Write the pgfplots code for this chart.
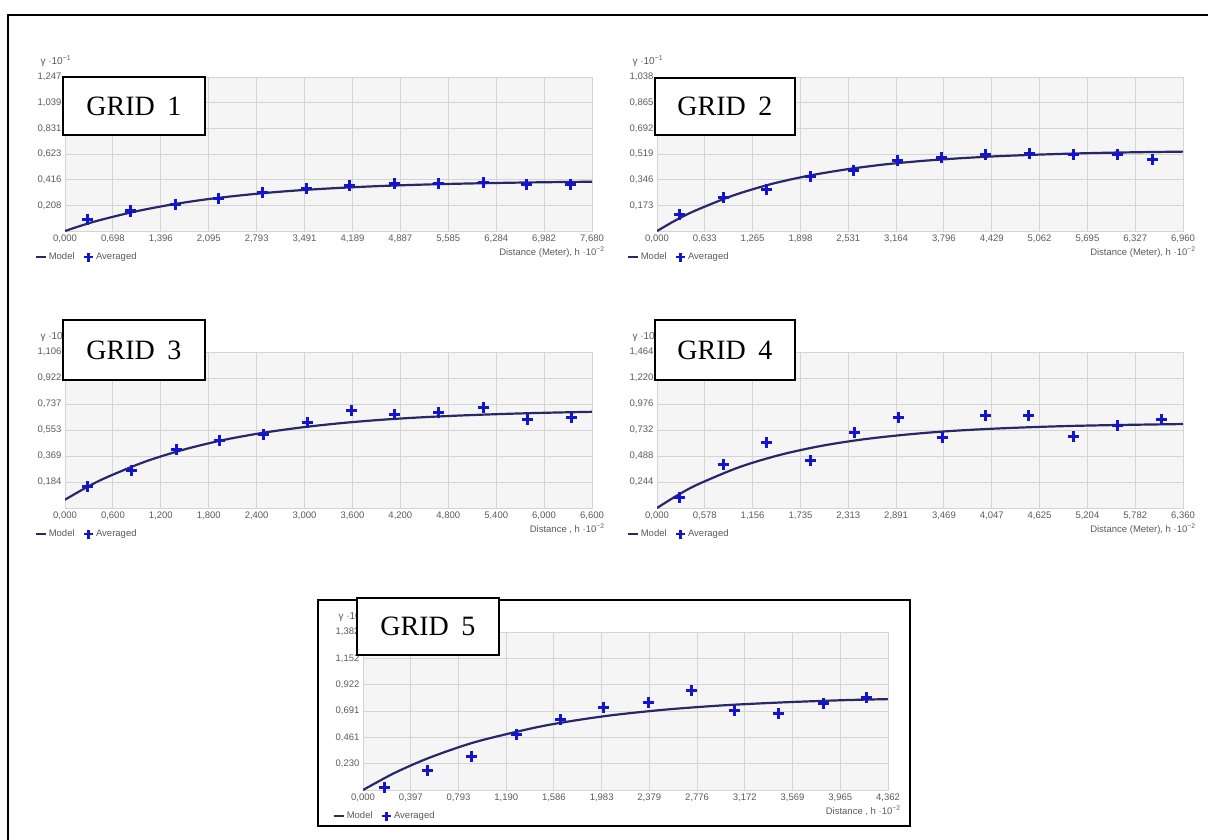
\documentclass[border=0pt]{standalone}
\usepackage{fontspec}
\setmainfont{Liberation Sans}
\newfontfamily\gridfont{Liberation Serif}
\usepackage{pgfplots}
\pgfplotsset{compat=1.18}
\definecolor{bgc}{RGB}{245,245,245}
\definecolor{gridc}{RGB}{212,212,212}
\definecolor{tickc}{RGB}{90,90,90}
\definecolor{modelc}{RGB}{40,40,105}
\definecolor{avgc}{RGB}{20,20,205}
\pgfplotsset{
  vario/.style={
    scale only axis,
    xmin=0, ymin=0,
    axis background/.style={fill=bgc},
    grid=major,
    major grid style={draw=gridc, line width=0.9pt},
    axis line style={draw=gridc, line width=0.9pt},
    tick style={draw=none},
    scaled ticks=false,
    tick label style={font=\fontsize{9.5}{11}\selectfont, text=tickc},
    /pgf/number format/fixed,
    /pgf/number format/fixed zerofill,
    /pgf/number format/precision=3,
    /pgf/number format/use comma,
    /pgf/number format/assume math mode=true,
    every axis x label/.style={at={(axis description cs:1,0)}, anchor=east, xshift=16pt, yshift=-21pt, font=\fontsize{9.5}{11}\selectfont, text=tickc},
    every axis y label/.style={at={(axis description cs:0,1)}, anchor=west, xshift=-28pt, yshift=16pt, font=\fontsize{10}{11}\selectfont, text=tickc},
    ylabel={γ ·10\textsuperscript{−1}},
    legend style={at={(axis description cs:0,0)}, anchor=west, xshift=-31pt, yshift=-26pt,
      draw=none, fill=none, inner sep=0pt, font=\fontsize{9.5}{10}\selectfont, text=tickc,
      legend columns=2, /tikz/every even column/.append style={column sep=6pt}},
    legend cell align=left,
  },
  model/.style={modelc, line width=2.2pt, smooth, no marks,
    legend image code/.code={\draw[modelc, line width=2.6pt] (0pt,0pt) -- (10pt,0pt);}},
  avg/.style={only marks, mark=+, mark size=5.5pt, avgc, line width=3pt,
    mark options={line width=3pt},
    legend image code/.code={\draw[avgc, line width=2.4pt] (0pt,-4.5pt) -- (0pt,4.5pt) (-4.5pt,0pt) -- (4.5pt,0pt);}},
}
\begin{document}
\begin{tikzpicture}
\useasboundingbox (0pt,0pt) rectangle (1208pt,-839pt);
\draw[line width=1.8pt] (8pt,-1000pt) -- (8pt,-15pt) -- (1300pt,-15pt);
\draw[line width=1.3pt] (318pt,-600pt) rectangle (910pt,-826pt);

% ---------- GRID 1
\begin{axis}[vario, at={(65pt,-231pt)}, anchor=south west, width=527pt, height=154pt,
  xmax=7.68, ymax=1.247,
  xtick={0,0.698,1.396,2.095,2.793,3.491,4.189,4.887,5.585,6.284,6.982,7.680},
  ytick={0.208,0.416,0.623,0.831,1.039,1.247},
  xlabel={Distance (Meter), h ·10\textsuperscript{−2}}]
\addplot[model] coordinates {(0,0) (0.25,0.046) (0.5,0.087) (1,0.155) (1.5,0.209) (2,0.252) (2.5,0.285) (3,0.312) (3.5,0.333) (4,0.349) (4.5,0.362) (5,0.372) (5.5,0.380) (6,0.386) (6.5,0.391) (7,0.395) (7.68,0.399)};
\addlegendentry{Model}
\addplot[avg] coordinates {(0.321,0.097) (0.953,0.162) (1.606,0.216) (2.238,0.267) (2.885,0.308) (3.519,0.343) (4.151,0.370) (4.798,0.384) (5.440,0.384) (6.097,0.389) (6.731,0.378) (7.373,0.378)};
\addlegendentry{Averaged}
\end{axis}

% ---------- GRID 2
\begin{axis}[vario, at={(657pt,-231pt)}, anchor=south west, width=526pt, height=154pt,
  xmax=6.96, ymax=1.038,
  xtick={0,0.633,1.265,1.898,2.531,3.164,3.796,4.429,5.062,5.695,6.327,6.960},
  ytick={0.173,0.346,0.519,0.692,0.865,1.038},
  xlabel={Distance (Meter), h ·10\textsuperscript{−2}}]
\addplot[model] coordinates {(0,0) (0.25,0.073) (0.5,0.136) (1,0.238) (1.5,0.315) (2,0.372) (2.5,0.415) (3,0.448) (3.5,0.472) (4,0.490) (4.5,0.504) (5,0.514) (5.5,0.522) (6,0.528) (6.5,0.532) (6.96,0.535)};
\addlegendentry{Model}
\addplot[avg] coordinates {(0.298,0.113) (0.877,0.225) (1.450,0.279) (2.030,0.369) (2.603,0.409) (3.183,0.472) (3.767,0.494) (4.346,0.517) (4.927,0.521) (5.511,0.515) (6.099,0.517) (6.552,0.485)};
\addlegendentry{Averaged}
\end{axis}

% ---------- GRID 3
\begin{axis}[vario, at={(65pt,-508pt)}, anchor=south west, width=527pt, height=156pt,
  xmax=6.6, ymax=1.106,
  xtick={0,0.6,1.2,1.8,2.4,3.0,3.6,4.2,4.8,5.4,6.0,6.6},
  ytick={0.184,0.369,0.553,0.737,0.922,1.106},
  xlabel={Distance , h ·10\textsuperscript{−2}}]
\addplot[model] coordinates {(0,0.059) (0.25,0.140) (0.5,0.212) (1,0.328) (1.5,0.416) (2,0.484) (2.5,0.535) (3,0.574) (3.5,0.604) (4,0.627) (4.5,0.644) (5,0.657) (5.5,0.667) (6,0.675) (6.6,0.682)};
\addlegendentry{Model}
\addplot[avg] coordinates {(0.288,0.149) (0.835,0.267) (1.394,0.418) (1.936,0.479) (2.491,0.518) (3.041,0.607) (3.584,0.692) (4.130,0.666) (4.681,0.678) (5.244,0.716) (5.787,0.631) (6.338,0.645)};
\addlegendentry{Averaged}
\end{axis}

% ---------- GRID 4
\begin{axis}[vario, at={(657pt,-508pt)}, anchor=south west, width=526pt, height=156pt,
  xmax=6.36, ymax=1.464,
  xtick={0,0.578,1.156,1.735,2.313,2.891,3.469,4.047,4.625,5.204,5.782,6.360},
  ytick={0.244,0.488,0.732,0.976,1.220,1.464},
  xlabel={Distance (Meter), h ·10\textsuperscript{−2}}]
\addplot[model] coordinates {(0,0) (0.25,0.121) (0.5,0.224) (1,0.385) (1.5,0.501) (2,0.585) (2.5,0.645) (3,0.688) (3.5,0.720) (4,0.742) (4.5,0.758) (5,0.770) (5.5,0.778) (6,0.784) (6.36,0.788)};
\addlegendentry{Model}
\addplot[avg] coordinates {(0.271,0.100) (0.801,0.406) (1.325,0.619) (1.854,0.447) (2.388,0.713) (2.918,0.854) (3.446,0.663) (3.972,0.869) (4.496,0.869) (5.034,0.672) (5.573,0.772) (6.102,0.829)};
\addlegendentry{Averaged}
\end{axis}

% ---------- GRID 5
\begin{axis}[vario, at={(363pt,-790pt)}, anchor=south west, width=525pt, height=158pt,
  xmax=4.362, ymax=1.382,
  xtick={0,0.397,0.793,1.190,1.586,1.983,2.379,2.776,3.172,3.569,3.965,4.362},
  ytick={0.230,0.461,0.691,0.922,1.152,1.382},
  xlabel={Distance , h ·10\textsuperscript{−2}}]
\addplot[model] coordinates {(0,0) (0.25,0.143) (0.5,0.261) (0.75,0.358) (1,0.439) (1.5,0.561) (2,0.645) (2.5,0.702) (3,0.741) (3.5,0.767) (4,0.786) (4.362,0.795)};
\addlegendentry{Model}
\addplot[avg] coordinates {(0.180,0.024) (0.535,0.175) (0.900,0.292) (1.274,0.482) (1.640,0.613) (2.000,0.725) (2.368,0.765) (2.728,0.868) (3.083,0.692) (3.454,0.672) (3.822,0.760) (4.182,0.809)};
\addlegendentry{Averaged}
\end{axis}

% ---------- title boxes
\tikzset{gridbox/.style={draw=black, line width=1.3pt, fill=white, inner sep=0pt,
  font=\gridfont\fontsize{28}{30}\selectfont}}
\node[gridbox, minimum width=142pt, minimum height=58pt] at (134pt,-106pt) {GRID\hspace{0.45em}1};
\node[gridbox, minimum width=140pt, minimum height=57pt] at (725pt,-106.5pt) {GRID\hspace{0.45em}2};
\node[gridbox, minimum width=142pt, minimum height=60pt] at (134pt,-350pt) {GRID\hspace{0.45em}3};
\node[gridbox, minimum width=140pt, minimum height=60pt] at (725pt,-350pt) {GRID\hspace{0.45em}4};
\node[gridbox, minimum width=142pt, minimum height=57pt] at (428pt,-626.5pt) {GRID\hspace{0.45em}5};
\end{tikzpicture}
\end{document}
